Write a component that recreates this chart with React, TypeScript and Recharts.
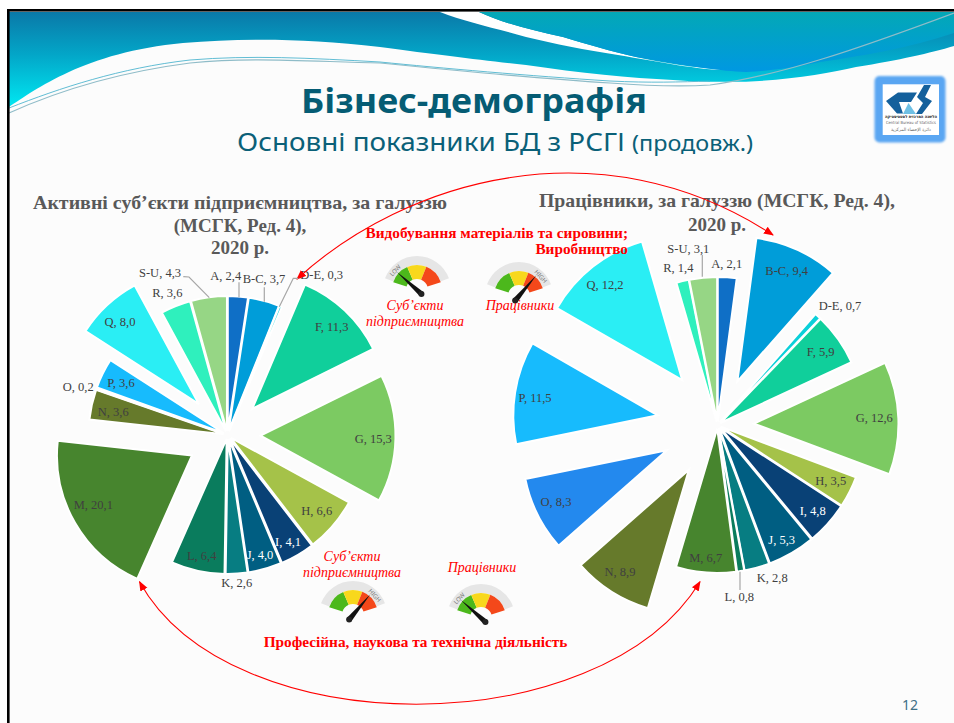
import React from 'react';
import { PieChart, Pie, Sector } from 'recharts';

const categories = ['A', 'B-C', 'D-E', 'F', 'G', 'H', 'I', 'J', 'K', 'L', 'M', 'N', 'O', 'P', 'Q', 'R', 'S-U'];
const enterprises = [2.4, 3.7, 0.3, 11.3, 15.3, 6.6, 4.1, 4.0, 2.6, 6.4, 20.1, 3.6, 0.2, 3.6, 8.0, 3.6, 4.3];
const employees = [2.1, 9.4, 0.7, 5.9, 12.6, 3.5, 4.8, 5.3, 2.8, 0.8, 6.7, 8.9, 8.3, 11.5, 12.2, 1.4, 3.1];

const sliceColors = ['#0f6fc6', '#009dd9', '#0bd0d9', '#10cf9b', '#7cca62', '#a5c249', '#094176', '#005e82', '#077d82', '#0a7c5d', '#47852e', '#667a2b', '#2389ee', '#17bbfd', '#2aeef4', '#2ff0bd', '#96d685'];

// how far each slice is pulled out of the pie, px
const explodeLeft = [4, 4, 4, 36, 33, 4, 4, 4, 4, 4, 41, 4, 4, 4, 42, 4, 4];
const explodeRight = [3.5, 48, 3.5, 3.5, 36.5, 3.5, 3.5, 3.5, 3.5, 3.5, 3.5, 53, 56.5, 60.5, 57, 3.5, 3.5];

// label centres, same order as categories
const labelsLeft = [[225.7, 275.7], [264, 279], [321.7, 275], [331.7, 327], [373.3, 439], [316.7, 511], [288, 541.7], [260, 555], [236.7, 582.7], [201.7, 555.7], [93.3, 505], [113.3, 411.7], [78.3, 387.3], [121, 383], [120, 321.7], [167.3, 293.3], [160, 273.3]];
const labelsRight = [[726.7, 264.3], [786.7, 270.7], [840, 305.7], [820.7, 351.7], [874.3, 418.3], [830.7, 480.7], [812.7, 510.7], [781.7, 540], [772.3, 578.3], [739.3, 596.7], [705.7, 558.3], [620, 572.3], [556, 501.7], [535, 397.7], [605, 285], [678.3, 267.7], [688.3, 249.3]];

const LIGHT_LABELS = [6, 7];
const SERIF = '"Liberation Serif", serif';
const SANS = '"Noto Sans", "Open Sans", sans-serif';
const RED = '#ff0000';

const leftData = categories.map((name, i) => ({ name, value: enterprises[i], fill: sliceColors[i] }));
const rightData = categories.map((name, i) => ({ name, value: employees[i], fill: sliceColors[i] }));

const RAD = Math.PI / 180;

function explodedShape(explode: number[]) {
  return (props: any) => {
    const { index, cx, cy, midAngle, innerRadius, outerRadius, startAngle, endAngle, fill } = props;
    const d = explode[index];
    return (
      <Sector
        cx={cx + d * Math.cos(midAngle * RAD)}
        cy={cy - d * Math.sin(midAngle * RAD)}
        innerRadius={innerRadius}
        outerRadius={outerRadius}
        startAngle={startAngle}
        endAngle={endAngle}
        fill={fill}
        stroke="#ffffff"
        strokeWidth={2}
      />
    );
  };
}

function labelRenderer(positions: number[][], values: number[]) {
  return (props: any) => {
    const { index } = props;
    const [x, y] = positions[index];
    const text = `${categories[index]}, ${values[index].toFixed(1).replace('.', ',')}`;
    return (
      <text
        key={index}
        x={x}
        y={y + 4}
        textAnchor="middle"
        fontFamily={SERIF}
        fontSize={12.5}
        fill={LIGHT_LABELS.includes(index) ? '#ffffff' : '#404040'}
      >
        {text}
      </text>
    );
  };
}

function polar(cx: number, cy: number, r: number, deg: number) {
  return [cx + r * Math.cos(deg * RAD), cy - r * Math.sin(deg * RAD)];
}

function band(cx: number, cy: number, r0: number, r1: number, a0: number, a1: number, fill: string) {
  const [x0, y0] = polar(cx, cy, r1, a0);
  const [x1, y1] = polar(cx, cy, r1, a1);
  const [x2, y2] = polar(cx, cy, r0, a1);
  const [x3, y3] = polar(cx, cy, r0, a0);
  return <path d={`M${x0},${y0} A${r1},${r1} 0 0 1 ${x1},${y1} L${x2},${y2} A${r0},${r0} 0 0 0 ${x3},${y3} Z`} fill={fill} />;
}

function Gauge({ cx, cy, high }: { cx: number; cy: number; high: boolean }) {
  const angle = high ? 50 : 138;
  const [tx, ty] = polar(cx, cy, 27, angle);
  const [bx, by] = polar(cx, cy, -6, angle);
  const [lx, ly] = polar(bx, by, 2.8, angle + 90);
  const [rx, ry] = polar(bx, by, 2.8, angle - 90);
  const [wx, wy] = polar(cx, cy, 29, high ? 42 : 138);
  return (
    <g>
      {band(cx, cy, 25, 34, 160, 20, '#e6e6e6')}
      {band(cx, cy, 11, 25, 162, 113, '#4cb81c')}
      {band(cx, cy, 11, 25, 113, 68, '#f8d81c')}
      {band(cx, cy, 11, 25, 68, 18, '#f4481a')}
      <polygon points={`${tx},${ty} ${lx},${ly} ${rx},${ry}`} fill="#111111" />
      <circle cx={bx} cy={by} r={3} fill="#222222" />
      <text
        x={wx}
        y={wy + 2}
        fontFamily={SANS}
        fontSize={6}
        fill="#777777"
        textAnchor="middle"
        transform={`rotate(${high ? 48 : -48} ${wx} ${wy})`}
      >
        {high ? 'HIGH' : 'LOW'}
      </text>
    </g>
  );
}

function Background() {
  return (
    <svg width={954} height={723} style={{ position: 'absolute', left: 0, top: 0 }}>
      <defs>
        <linearGradient id="waveMain" x1="0" y1="12" x2="0" y2="107" gradientUnits="userSpaceOnUse">
          <stop offset="0" stopColor="#0a79a8" />
          <stop offset="0.45" stopColor="#03a6c8" />
          <stop offset="1" stopColor="#00e8f2" />
        </linearGradient>
        <linearGradient id="waveTop" x1="0" y1="12" x2="0" y2="72" gradientUnits="userSpaceOnUse">
          <stop offset="0" stopColor="#03a8b6" />
          <stop offset="1" stopColor="#0098e2" />
        </linearGradient>
        <filter id="soft" x="-10%" y="-10%" width="120%" height="120%">
          <feGaussianBlur stdDeviation="1.3" />
        </filter>
      </defs>
      <rect x={8} y={10} width={946} height={713} fill="#fcfcfc" />
      <path
        d="M9,107 C35,90 85,52 183,43 C243,38 304,38 380,47 C440,55 480,60 526,65 C580,73 630,78 673,80 C700,82 730,82 746,81.7 C790,80 830,73 856,67 C900,60 930,53 954,46 L954,12 L9,12 Z"
        fill="url(#waveMain)"
      />
      <path d="M440,12 L479,12 C500,22 530,30 563,37 C590,45 610,51 636,57 C665,63 690,67 725,70 C700,70 660,62 618,55 C585,50 555,44 526,37 C495,28 465,22 440,12 Z" fill="#ffffff" />
      <path d="M479,12 L954,12 L954,33 C910,48 860,56 820,62 C790,68 770,71 746,72 C720,71 695,67 636,57 C610,51 590,45 563,37 C530,30 500,22 479,12 Z" fill="url(#waveTop)" />
      <path d="M9,113 C60,90 120,72 190,63 C250,57 300,61 380,63 C430,68 530,78 610,83 C650,86 680,87 710,85 C780,76 860,48 954,13" fill="none" stroke="#8fbcc8" strokeWidth={1.2} />
      <path d="M9,108 C60,88 120,68 190,60 C250,55 310,58 380,62 C440,68 530,76 610,81 C650,83 680,82 710,81" fill="none" stroke="#4fb6cf" strokeWidth={0.9} />
      <rect x={7} y={9} width={947} height={2.6} fill="#000000" />
      <rect x={7} y={9} width={2.6} height={714} fill="#000000" />

      <g>
        <rect x={874.5} y={76} width={71} height={66.5} rx={5} fill="#5aa6f2" filter="url(#soft)" />
        <rect x={882.7} y={84.3} width={56.3} height={50.7} fill="#ffffff" />
        <path d="M886,101 L898,92.5 L917,92.5 L911,102 L899,102 L903,113.5 L897,113.5 Z" fill="#14609c" />
        <path d="M924,85 L931,85 L925,97 L932,101 L922,114 L916,114 L923,103 L917,97 Z" fill="#14609c" />
        <path d="M908.5,103 L916,114 L903,114 Z" fill="#6ec0e4" />
        <text x={911} y={118} textAnchor="middle" fontFamily="DejaVu Sans" fontWeight="bold" fontSize={4.2} fill="#222222" textLength={52} lengthAdjust="spacingAndGlyphs">הלשכה המרכזית לסטטיסטיקה</text>
        <text x={911} y={124} textAnchor="middle" fontFamily="DejaVu Sans" fontSize={4.2} fill="#666666" textLength={50} lengthAdjust="spacingAndGlyphs">Central Bureau of Statistics</text>
        <text x={911} y={131} textAnchor="middle" fontFamily="DejaVu Sans" fontSize={4.5} fill="#666666" textLength={40} lengthAdjust="spacingAndGlyphs">دائرة الإحصاء المركزية</text>
      </g>

      <text x={474} y={113} textAnchor="middle" fontFamily={SANS} fontWeight="bold" fontSize={34.5} fill="#055c74" textLength={346} lengthAdjust="spacingAndGlyphs">Бізнес-демографія</text>
      <text x={237} y={150.5} fontFamily={SANS} fontSize={25.5} fill="#0a6078" textLength={388} lengthAdjust="spacingAndGlyphs">Основні показники БД з РСГІ</text>
      <text x={632} y={150.5} fontFamily={SANS} fontSize={21} fill="#0a6078" textLength={121} lengthAdjust="spacingAndGlyphs">(продовж.)</text>

      <g fontFamily={SERIF} fontWeight="bold" fontSize={19} fill="#595959" textAnchor="middle">
        <text x={240} y={209} textLength={414} lengthAdjust="spacingAndGlyphs">Активні суб’єкти підприємництва, за галуззю</text>
        <text x={240} y={232}>(МСГК, Ред. 4),</text>
        <text x={240} y={254}>2020 р.</text>
        <text x={717} y={207} textLength={356} lengthAdjust="spacingAndGlyphs">Працівники, за галуззю (МСГК, Ред. 4),</text>
        <text x={717} y={231}>2020 р.</text>
      </g>

      <Gauge cx={417} cy={290} high={false} />
      <Gauge cx={519} cy={296} high={true} />
      <Gauge cx={353} cy={615} high={true} />
      <Gauge cx={481} cy={618} high={false} />

      <g fontFamily={SERIF} fontStyle="italic" fontSize={14} fill={RED} textAnchor="middle">
        <text x={415} y={310}>Суб’єкти</text>
        <text x={415} y={326}>підприємництва</text>
        <text x={520} y={310}>Працівники</text>
        <text x={352} y={561}>Суб’єкти</text>
        <text x={352} y={577}>підприємництва</text>
        <text x={482} y={572}>Працівники</text>
      </g>
      <text x={910} y={710} textAnchor="middle" fontFamily={SANS} fontSize={14} fill="#3f6f86">12</text>
    </svg>
  );
}

function Overlay() {
  return (
    <svg width={954} height={723} style={{ position: 'absolute', left: 0, top: 0, pointerEvents: 'none' }}>
      <defs>
        <marker id="arrow" markerWidth="10" markerHeight="10" refX="9" refY="4" orient="auto-start-reverse" markerUnits="userSpaceOnUse">
          <path d="M0,0 L10,4 L0,8 Z" fill={RED} />
        </marker>
      </defs>
      <path d="M297,279 C405,180 600,122 773,235" fill="none" stroke={RED} strokeWidth={1.1} markerStart="url(#arrow)" markerEnd="url(#arrow)" />
      <path d="M139.5,581.7 C230,745 600,745 700,581.7" fill="none" stroke={RED} strokeWidth={1.1} markerStart="url(#arrow)" markerEnd="url(#arrow)" />

      <g stroke="#a6a6a6" strokeWidth={1.2} fill="none">
        <polyline points="183.3,276.7 189,277 209.3,297.7" />
        <line x1={239} y1={282.3} x2={239} y2={297.3} />
        <line x1={264.3} y1={287.3} x2={264.3} y2={301.7} />
        <polyline points="298.3,278.3 293.3,278.3 279.3,306.7" />
        <line x1={702.3} y1={255} x2={702.3} y2={276.7} />
        <line x1={740} y1={571.7} x2={740} y2={590} />
      </g>

      <g fontFamily={SERIF} fontWeight="bold" fontSize={15.3} fill={RED} textAnchor="end">
        <text x={628} y={238}>Видобування матеріалів та сировини;</text>
        <text x={628} y={254}>Виробництво</text>
      </g>
      <text x={415.5} y={647} textAnchor="middle" fontFamily={SERIF} fontWeight="bold" fontSize={15.3} fill={RED}>Професійна, наукова та технічна діяльність</text>
    </svg>
  );
}

export default function App() {
  return (
    <div style={{ position: 'absolute', left: 0, top: 0, width: 954, height: 723, overflow: 'hidden', background: '#ffffff' }}>
      <Background />
      <div style={{ position: 'absolute', left: 0, top: 0 }}>
        <PieChart width={954} height={723} margin={{ top: 0, right: 0, bottom: 0, left: 0 }}>
          <Pie
            data={leftData}
            dataKey="value"
            nameKey="name"
            cx={227.5}
            cy={435}
            outerRadius={135}
            startAngle={90}
            endAngle={-270}
            shape={explodedShape(explodeLeft)}
            label={labelRenderer(labelsLeft, enterprises)}
            labelLine={false}
            isAnimationActive={false}
          />
          <Pie
            data={rightData}
            dataKey="value"
            nameKey="name"
            cx={717.5}
            cy={425}
            outerRadius={144.5}
            startAngle={90}
            endAngle={-270}
            shape={explodedShape(explodeRight)}
            label={labelRenderer(labelsRight, employees)}
            labelLine={false}
            isAnimationActive={false}
          />
        </PieChart>
      </div>
      <Overlay />
    </div>
  );
}
